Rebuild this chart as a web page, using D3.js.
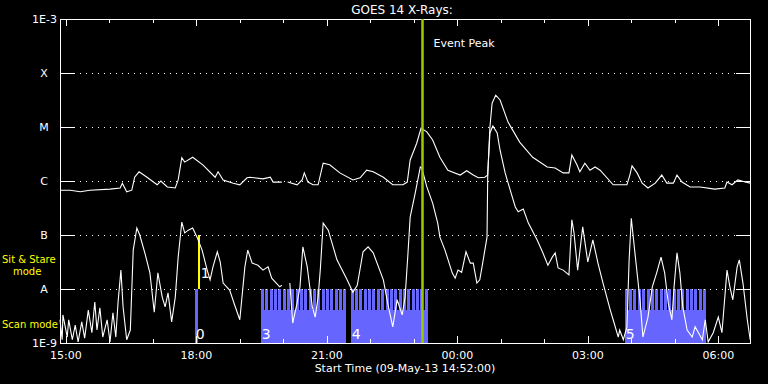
<!DOCTYPE html>
<html>
<head>
<meta charset="utf-8">
<script src="https://cdn.jsdelivr.net/npm/d3@7"></script>
<style>
  html, body { margin: 0; padding: 0; background: #000; }
  svg text { font-family: "DejaVu Sans", sans-serif; }
</style>
</head>
<body>
<div id="chart"></div>
<script>
// plot window starts 09-May-13 14:52:00 UT, times below are minutes after it
var startTime = Date.UTC(2013, 4, 9, 14, 52, 0);
var spanMinutes = 952;
var peakMinute = 499;

var classLevels = [1e-8, 1e-7, 1e-6, 1e-5, 1e-4];
var classLabels = ['A', 'B', 'C', 'M', 'X'];
var endLevels = [1e-9, 1e-3];
var endLabels = ['1E-9', '1E-3'];

// GOES 1-8 A channel, [minute, log10 flux]; null = data gap
var goesLong = [
  [0,-6.17],[14,-6.17],[28,-6.20],[41,-6.17],[69,-6.15],[83,-6.13],[86,-6.04],[92,-6.20],
  [99,-6.17],[103,-5.93],[109,-5.83],[120,-5.93],[134,-6.07],[139,-6.00],[148,-6.11],[159,-6.13],
  [163,-5.98],[168,-5.57],[172,-5.65],[183,-5.56],[197,-5.70],[214,-5.93],[218,-5.83],[225,-5.98],
  [239,-6.04],[248,-6.07],[258,-5.94],[262,-5.93],[280,-5.96],[290,-5.93],[294,-6.02],[306,-6.02],
  [310,null],
  [314,-6.02],[327,-6.07],[334,-5.98],[337,-5.85],[342,-6.02],[349,-6.07],[356,-6.07],[363,-5.67],
  [372,-5.70],[386,-5.85],[404,-5.98],[414,-5.94],[423,-5.80],[432,-5.83],[446,-5.93],[459,-6.07],
  [473,-6.07],[479,-6.02],[483,-5.61],[492,-5.30],[498,-5.02],[506,-5.09],[514,-5.24],[524,-5.56],
  [535,-5.80],[552,-5.89],[561,-5.81],[570,-5.89],[577,-5.94],[586,-5.93],[590,-5.89],[593,-5.00],
  [596,-4.56],[601,-4.41],[607,-4.50],[618,-4.91],[634,-5.28],[652,-5.56],[672,-5.74],[683,-5.76],
  [694,-5.85],[702,-5.85],[706,-5.52],[713,-5.70],[717,-5.83],[724,-5.67],[731,-5.80],[738,-5.74],
  [745,-5.80],[763,-6.07],[782,-6.07],[786,-5.89],[789,-5.72],[796,-5.85],[803,-6.04],[811,-6.13],
  [821,-6.04],[830,-5.89],[837,-6.04],[846,-6.04],[851,-5.89],[858,-6.02],[869,-6.11],[883,-6.11],
  [903,-6.15],[917,-6.13],[920,-6.02],[927,-6.07],[935,-5.98],[945,-6.02],[952,-6.04]
];

// GOES 0.5-4 A channel
var goesShort = [
  [0,-8.57],[3,-8.94],[4,-8.48],[10,-8.89],[12,-8.57],[17,-8.94],[21,-8.67],[25,-8.98],
  [30,-8.61],[34,-8.91],[39,-8.39],[44,-8.81],[48,-8.24],[51,-8.76],[55,-8.35],[59,-8.89],
  [65,-8.57],[69,-8.98],[73,-8.44],[77,-8.89],[80,-8.26],[84,-7.65],[87,-8.33],[90,-8.70],
  [92,-8.94],[97,-8.76],[101,-7.28],[106,-6.87],[110,-7.00],[117,-7.33],[124,-7.70],[130,-8.43],
  [135,-7.70],[141,-8.15],[145,-8.33],[149,-8.07],[154,-8.61],[159,-8.15],[163,-7.41],[168,-6.76],
  [172,-6.96],[177,-6.91],[183,-6.87],[189,-7.04],[196,-7.28],[203,-7.65],[207,-7.83],[211,-7.59],
  [217,-7.31],[221,-7.50],[225,-7.89],[234,-8.02],[241,-8.30],[248,-8.57],[255,-7.59],[259,-7.28],
  [265,-7.52],[273,-7.56],[280,-7.65],[287,-7.59],[292,-7.80],[303,-7.96],[306,-7.93],
  [310,null],
  [317,-7.89],[321,-8.63],[327,-8.26],[331,-7.96],[335,-7.22],[341,-7.59],[348,-8.33],[352,-8.52],
  [356,-8.15],[359,-7.65],[363,-6.78],[370,-6.91],[382,-7.46],[396,-7.83],[404,-8.06],[410,-7.93],
  [418,-7.31],[425,-7.22],[432,-7.33],[446,-7.83],[452,-8.26],[459,-8.70],[465,-8.20],[472,-8.48],
  [476,-8.15],[480,-7.33],[483,-6.67],[490,-6.22],[497,-5.74],[499,-5.76],[506,-6.11],[514,-6.41],
  [521,-6.78],[524,-7.04],[531,-7.28],[541,-7.70],[545,-7.80],[549,-7.65],[554,-7.69],[560,-7.31],
  [566,-7.52],[570,-7.52],[575,-7.89],[579,-7.83],[583,-7.52],[589,-7.04],[590,-5.85],[593,-5.11],
  [597,-4.98],[603,-5.11],[607,-5.43],[614,-5.85],[621,-6.17],[628,-6.48],[632,-6.57],[639,-6.52],
  [646,-6.78],[658,-7.09],[666,-7.33],[673,-7.56],[679,-7.41],[683,-7.33],[687,-7.61],[694,-7.65],
  [702,-7.74],[706,-6.72],[709,-6.96],[714,-7.65],[721,-6.85],[728,-7.50],[735,-7.09],[742,-7.52],
  [749,-7.89],[759,-8.39],[763,-8.57],[770,-8.89],[772,-8.76],[777,-8.94],[782,-8.70],[785,-7.46],
  [788,-6.69],[793,-7.33],[800,-8.20],[804,-8.89],[811,-8.52],[817,-7.96],[823,-7.70],[829,-7.41],
  [834,-7.70],[839,-8.26],[844,-8.57],[847,-7.96],[851,-7.33],[855,-7.70],[859,-8.33],[865,-8.76],
  [872,-8.89],[876,-8.70],[886,-8.94],[890,-8.57],[894,-8.98],[901,-8.81],[908,-8.52],[913,-8.81],
  [920,-7.65],[924,-7.96],[928,-8.20],[934,-7.59],[937,-7.46],[942,-7.89],[948,-8.57],[952,-8.94]
];

// IRIS observing segments (minutes after start)
var scanIds = ['0', '3', '4', '5'];
var scanStarts = [186, 277, 401, 779];
var scanEnds = [190, 394, 506, 891];
var sitStareIds = ['1'];
var sitStareStarts = [190];
var sitStareEnds = [192];
var rasterCadence = 6;
var rasterDwell = 4;

function GoesPlotter() {
  this._width = 768;
  this._height = 384;
  this._left = 60;
  this._right = 750;
  this._top = 19;
  this._bottom = 343;
  this._ytick = 14;
  this._font_size = '11px';
}

GoesPlotter.prototype._date = function(m) {
  return new Date(startTime + m * 60000);
}

GoesPlotter.prototype._make_scales = function() {
  this.x = d3.scaleUtc()
    .domain([this._date(0), this._date(spanMinutes)])
    .range([this._left, this._left + spanMinutes * 0.725]);
  this.y = d3.scaleLog()
    .domain([1e-9, 1e-3])
    .range([this._bottom, this._top]);
}

GoesPlotter.prototype._plot_segments = function(svg) {
  let self = this;
  let yTop = this.y(1e-8);
  let yBot = this.y(1e-9);
  let ySolid = yBot - 0.61 * (yBot - yTop);

  let segs = scanIds.map((id, i) => ({id: id, start: scanStarts[i], end: scanEnds[i]}));
  let g = svg.append('g').attr('class', 'scan').attr('shape-rendering', 'crispEdges');
  g.selectAll('rect.solid')
    .data(segs)
    .join('rect')
    .attr('class', 'solid')
    .attr('x', d => self.x(self._date(d.start)))
    .attr('width', d => self.x(self._date(d.end)) - self.x(self._date(d.start)))
    .attr('y', ySolid)
    .attr('height', yBot - ySolid)
    .attr('fill', '#6666ff');

  let rasters = [];
  for(let s of segs) {
    for(let t of d3.range(s.start, s.end, rasterCadence)) {
      rasters.push([t, Math.min(t + rasterDwell, s.end)]);
    }
  }
  g.selectAll('rect.raster')
    .data(rasters)
    .join('rect')
    .attr('class', 'raster')
    .attr('x', d => Math.round(self.x(self._date(d[0]))))
    .attr('width', d => Math.max(3, Math.round(self.x(self._date(d[1])) - self.x(self._date(d[0])))))
    .attr('y', yTop)
    .attr('height', yBot - yTop)
    .attr('fill', '#6666ff');

  let ss = sitStareIds.map((id, i) => ({id: id, start: sitStareStarts[i], end: sitStareEnds[i]}));
  svg.append('g').attr('shape-rendering', 'crispEdges').selectAll('rect')
    .data(ss)
    .join('rect')
    .attr('x', d => Math.round(self.x(self._date(d.start))))
    .attr('width', d => Math.max(2, self.x(self._date(d.end)) - self.x(self._date(d.start))))
    .attr('y', self.y(1e-7))
    .attr('height', yTop - self.y(1e-7))
    .attr('fill', '#ffff00');

  this._segs = segs;
  this._ss = ss;
}

GoesPlotter.prototype._plot_axes = function(svg) {
  let self = this;
  let x0 = this._left, x1 = this._right;

  // dotted class grid
  svg.append('g').selectAll('line')
    .data(classLevels)
    .join('line')
    .attr('x1', x0 + this._ytick)
    .attr('x2', x1 - this._ytick)
    .attr('y1', d => Math.round(self.y(d)) + 0.5)
    .attr('y2', d => Math.round(self.y(d)) + 0.5)
    .attr('stroke', '#fff')
    .attr('stroke-dasharray', '1,5');

  let ticks = svg.append('g').attr('stroke', '#fff').attr('shape-rendering', 'crispEdges');
  for(let side of [[x0, x0 + this._ytick], [x1 - this._ytick, x1]]) {
    ticks.append('g').selectAll('line')
      .data(classLevels)
      .join('line')
      .attr('x1', side[0])
      .attr('x2', side[1])
      .attr('y1', d => Math.round(self.y(d)) + 0.5)
      .attr('y2', d => Math.round(self.y(d)) + 0.5);
  }

  let hours = d3.utcHour.range(this._date(0), this._date(spanMinutes));
  let tlen = d => (d.getUTCHours() % 3 === 0 ? 7 : 4);
  ticks.append('g').selectAll('line')
    .data(hours)
    .join('line')
    .attr('x1', d => Math.round(self.x(d)) + 0.5)
    .attr('x2', d => Math.round(self.x(d)) + 0.5)
    .attr('y1', this._top)
    .attr('y2', d => this._top + tlen(d));
  ticks.append('g').selectAll('line')
    .data(hours)
    .join('line')
    .attr('x1', d => Math.round(self.x(d)) + 0.5)
    .attr('x2', d => Math.round(self.x(d)) + 0.5)
    .attr('y1', this._bottom)
    .attr('y2', d => this._bottom - tlen(d));

  svg.append('rect')
    .attr('x', x0 + 0.5)
    .attr('y', this._top + 0.5)
    .attr('width', x1 - x0)
    .attr('height', this._bottom - this._top)
    .attr('fill', 'none')
    .attr('stroke', '#fff')
    .attr('shape-rendering', 'crispEdges');

  // labels
  let fmt = d3.utcFormat('%H:%M');
  svg.append('g').selectAll('text')
    .data(hours.filter(d => d.getUTCHours() % 3 === 0))
    .join('text')
    .attr('x', d => self.x(d))
    .attr('y', 359)
    .attr('text-anchor', 'middle')
    .attr('font-size', this._font_size)
    .attr('fill', '#fff')
    .text(d => fmt(d));

  svg.append('g').selectAll('text')
    .data(classLevels)
    .join('text')
    .attr('x', 44)
    .attr('y', d => self.y(d) + 4)
    .attr('text-anchor', 'middle')
    .attr('font-size', this._font_size)
    .attr('fill', '#fff')
    .text((d, i) => classLabels[i]);

  svg.append('g').selectAll('text')
    .data(endLevels)
    .join('text')
    .attr('x', 57)
    .attr('y', d => self.y(d) + 4)
    .attr('text-anchor', 'end')
    .attr('font-size', this._font_size)
    .attr('fill', '#fff')
    .text((d, i) => endLabels[i]);

  svg.append('text')
    .attr('x', 405)
    .attr('y', 372)
    .attr('text-anchor', 'middle')
    .attr('font-size', this._font_size)
    .attr('fill', '#fff')
    .text('Start Time (' + d3.utcFormat('%d-%b-%y %H:%M:%S')(this._date(0)) + ')');

  svg.append('text')
    .attr('x', 402)
    .attr('y', 14)
    .attr('text-anchor', 'middle')
    .attr('font-size', '12px')
    .attr('fill', '#fff')
    .text('GOES 14 X-Rays:');
}

GoesPlotter.prototype._plot_curves = function(svg) {
  let self = this;
  let line = d3.line()
    .defined(d => d[1] !== null)
    .x(d => self.x(self._date(d[0])))
    .y(d => self.y(Math.pow(10, d[1])));
  svg.append('g').selectAll('path')
    .data([goesLong, goesShort])
    .join('path')
    .attr('d', line)
    .attr('fill', 'none')
    .attr('stroke', '#fff')
    .attr('stroke-width', 1.1);
}

GoesPlotter.prototype._plot_labels = function(svg) {
  let self = this;
  let px = Math.round(this.x(this._date(peakMinute))) + 0.5;
  svg.append('line')
    .attr('x1', px).attr('x2', px)
    .attr('y1', this._top).attr('y2', this._bottom)
    .attr('stroke', '#99cc00')
    .attr('stroke-width', 2.5);
  svg.append('text')
    .attr('x', px + 11)
    .attr('y', 47)
    .attr('font-size', this._font_size)
    .attr('fill', '#fff')
    .text('Event Peak');

  svg.append('g').selectAll('text')
    .data(this._segs)
    .join('text')
    .attr('x', d => self.x(self._date(d.start)) + 1)
    .attr('y', 339)
    .attr('font-size', '14px')
    .attr('fill', '#fff')
    .text(d => d.id);
  svg.append('g').selectAll('text')
    .data(this._ss)
    .join('text')
    .attr('x', d => self.x(self._date(d.start)) + 3)
    .attr('y', 278)
    .attr('font-size', '14px')
    .attr('fill', '#fff')
    .text(d => d.id);

  let leg = svg.append('g')
    .attr('font-size', '10px')
    .attr('fill', '#ffff00');
  leg.append('text').attr('x', 2).attr('y', 263).text('Sit & Stare');
  leg.append('text').attr('x', 13).attr('y', 275).text('mode');
  leg.append('text').attr('x', 2).attr('y', 328).text('Scan mode');
}

GoesPlotter.prototype.plot = function(container) {
  let svg = d3.select(container).append('svg')
    .attr('width', this._width)
    .attr('height', this._height);
  svg.append('rect')
    .attr('width', this._width)
    .attr('height', this._height)
    .attr('fill', '#000');

  this._make_scales();
  this._plot_segments(svg);
  this._plot_curves(svg);
  this._plot_axes(svg);
  this._plot_labels(svg);
}

new GoesPlotter().plot('#chart');
</script>
</body>
</html>
